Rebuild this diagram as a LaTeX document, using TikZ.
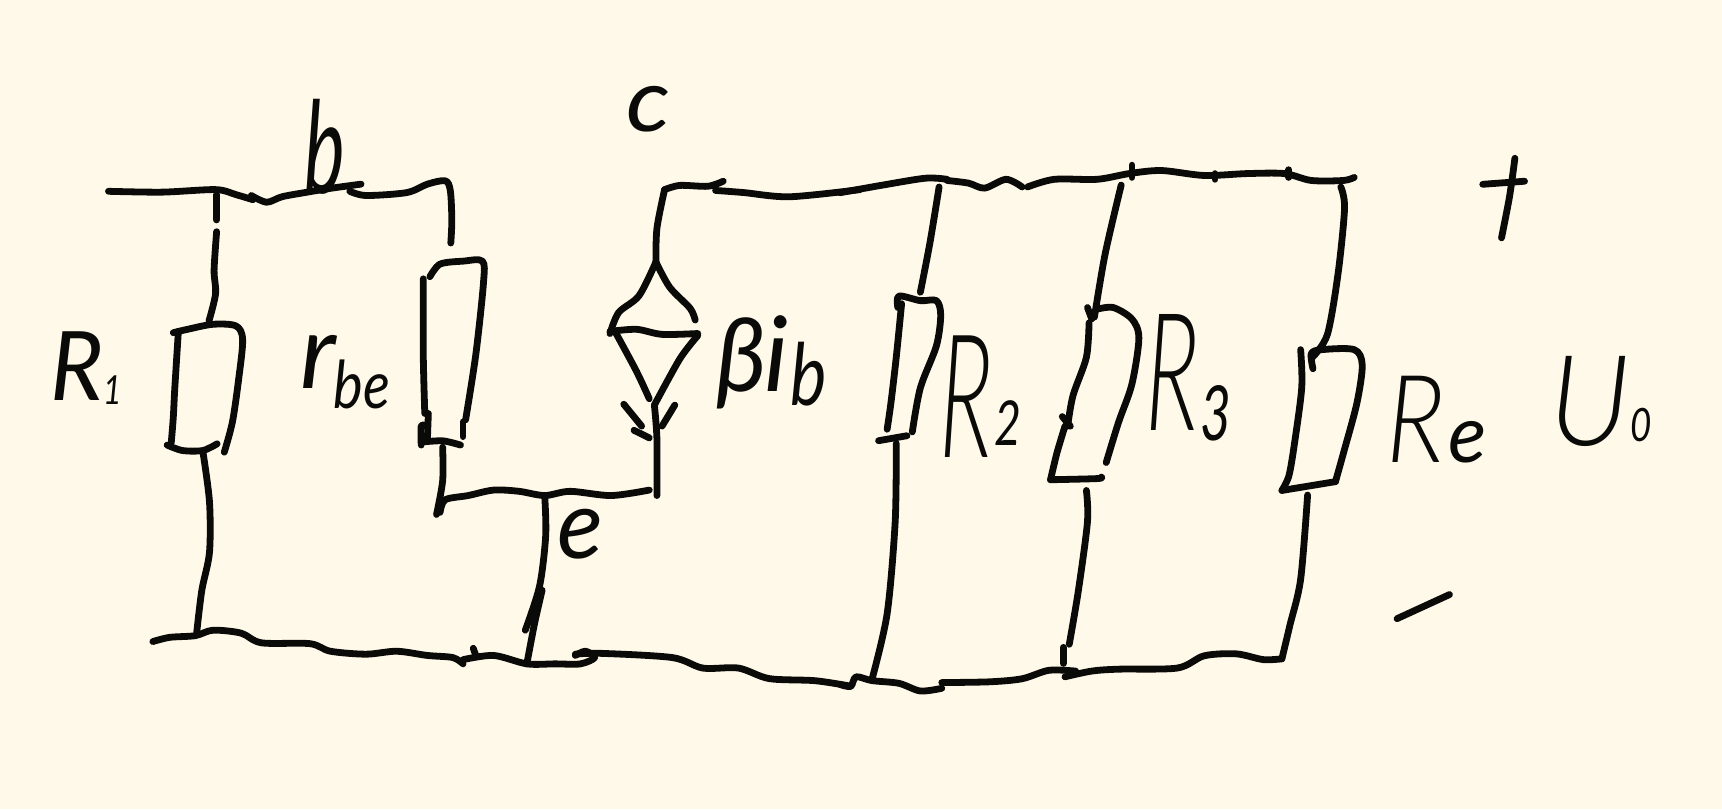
\documentclass[tikz,border=0pt]{standalone}
\usepackage{fontspec}
\setmainfont{Lato}[UprightFont=*,ItalicFont=* Italic]
\newfontfamily\lightface{Lato}[UprightFont=* Light,ItalicFont=* Light Italic]
\definecolor{paper}{HTML}{FFF9EA}
\definecolor{ink}{HTML}{0A0A08}
\tikzset{
  wire/.style={line width=3.4pt,line cap=round,line join=round,draw=ink},
  hand/.style={inner sep=0pt,outer sep=0pt,anchor=base west,text=ink,font=\itshape},
  viewA/.style={shift={(60,60)},x=0.2551pt,y=-0.2104pt},
  viewB/.style={shift={(840,120)},x=0.2678pt,y=-0.19135pt}
}
\newcommand\stroke[1]{\draw[wire] plot[smooth,tension=.5] coordinates {#1};}
\newcommand\glyph[4]{\scalebox{#1}[1]{\fontsize{#2}{#2}\selectfont\raisebox{#3}{#4}}}
\begin{document}
\begin{tikzpicture}[x=0.5pt,y=-0.5pt]
\fill[paper] (0,0) rectangle (1722,809);
\useasboundingbox (0,0) rectangle (1722,809);
% ---------- left part
\begin{scope}[viewA]
\coordinate (inL) at (95,312);
\coordinate (jR1) at (305,308);
\coordinate (jRbe) at (766,435);
\coordinate (jE) at (950,1035);
\coordinate (gndE) at (915,1435);
\coordinate (srcTop) at (1168,480);
\coordinate (srcBot) at (1170,1035);
\coordinate (cTop) at (1185,308);
% top-left wire
\stroke{(inL) (200,314) (jR1) (345,320) (378,332)}
\stroke{(375,322) (405,338) (435,325) (480,315) (530,305) (590,295)}
\stroke{(568,312) (600,322) (680,315) (720,295) (755,287) (765,310) (768,380) (jRbe)}
% R1
\stroke{(307,320) (307,380)}
\stroke{(307,408) (302,500) (305,555) (292,620)}
\stroke{(222,648) (250,640) (300,628) (345,632) (358,665) (350,760) (338,860) (322,932)}
\stroke{(232,645) (225,780) (222,850) (218,910)}
\stroke{(210,915) (240,928) (280,928) (308,912)}
\stroke{(280,930) (293,1050) (293,1170) (278,1260) (268,1360)}
% ground wire
\stroke{(182,1382) (215,1372) (265,1368) (300,1355) (355,1362) (395,1385) (490,1387) (530,1405) (600,1412) (660,1405) (720,1415) (770,1420) (790,1435)}
\stroke{(790,1425) (850,1415) (gndE) (970,1435) (1020,1435) (1048,1420) (1030,1405) (1010,1415)}
\stroke{(1010,1412) (1060,1410) (1200,1420) (1260,1445) (1330,1445) (1390,1470) (1480,1475) (1550,1488)}
\stroke{(810,1398) (815,1415)}
% rbe
\stroke{(725,515) (745,485) (790,478) (828,478) (830,530) (815,700) (795,855)}
\stroke{(712,520) (712,700) (715,840)}
\stroke{(722,840) (720,905)}
\stroke{(708,915) (708,870) (718,870)}
\stroke{(708,908) (750,905) (785,915)}
\stroke{(790,860) (790,895)}
\stroke{(750,920) (750,1000) (738,1080)}
\stroke{(745,1075) (755,1045) (800,1035) (850,1022) (900,1025) (jE) (1000,1025) (1080,1035) (1155,1022)}
% e drop
\stroke{(jE) (952,1130) (940,1250) (912,1355)}
\stroke{(945,1260) (930,1340) (gndE)}
% controlled source
\stroke{(1300,288) (1270,300) (1215,298) (cTop)}
\stroke{(cTop) (1170,400) (srcTop)}
\stroke{(srcTop) (1135,560) (1095,600) (1078,650)}
\stroke{(srcTop) (1195,540) (1235,590) (1245,618)}
\stroke{(1078,645) (1130,640) (1180,652) (1250,650)}
\stroke{(1090,650) (1130,740) (1155,805)}
\stroke{(1250,655) (1215,710) (1165,820)}
\stroke{(1165,820) (1170,900) (srcBot)}
\stroke{(1105,818) (1140,870)}
\stroke{(1205,820) (1180,870)}
\stroke{(1125,880) (1155,898)}
\stroke{(1285,310) (1340,315) (1430,325) (1568,308)}
\end{scope}
% ---------- right part
\begin{scope}[viewB]
\coordinate (topEnd) at (960,150);
\coordinate (gndR) at (825,1408);
\stroke{(0,190) (80,170) (160,152) (200,155)}
\stroke{(200,158) (240,165) (270,178) (310,155) (340,175)}
\stroke{(350,175) (400,155) (480,155) (540,140) (600,132) (680,145) (760,140) (830,140) (880,158) (940,158) (topEnd)}
\stroke{(545,118) (545,150)}
\stroke{(838,130) (838,150)}
\stroke{(700,140) (700,155)}
% R2
\stroke{(185,175) (168,320) (150,450)}
\stroke{(108,490) (110,460) (150,472) (180,472) (188,510) (180,590) (150,700) (135,815)}
\stroke{(115,480) (105,620) (95,740) (88,808)}
\stroke{(72,838) (125,825)}
\stroke{(105,845) (103,1050) (88,1290) (60,1460)}
% ground
\stroke{(0,1475) (20,1480) (30,1455) (60,1465) (110,1472) (150,1492) (190,1485)}
\stroke{(190,1470) (280,1468) (340,1460) (390,1438) (440,1440)}
\stroke{(420,1455) (470,1440) (520,1435) (630,1432) (680,1400) (740,1395) (790,1410) (gndR)}
% R3
\stroke{(525,170) (495,350) (475,515)}
\stroke{(462,490) (470,520)}
\stroke{(465,530) (460,620) (435,720) (425,800)}
\stroke{(415,775) (430,800)}
\stroke{(420,800) (405,870) (393,940)}
\stroke{(393,940) (480,937) (488,933)}
\stroke{(478,495) (510,490) (545,520) (558,570) (545,690) (520,790) (497,895)}
\stroke{(460,968) (462,1050) (445,1230) (428,1370)}
\stroke{(417,1378) (417,1420)}
% Re
\stroke{(935,175) (942,230) (930,400) (910,560) (882,620)}
\stroke{(883,650) (880,610) (900,600) (960,600) (975,640) (965,740) (940,870) (925,945)}
\stroke{(860,600) (862,700) (848,850) (838,930) (825,968)}
\stroke{(825,968) (925,945)}
\stroke{(873,980) (860,1200) (840,1320) (gndR)}
% plus, minus
\stroke{(1200,168) (1278,160)}
\stroke{(1260,100) (1250,200) (1235,308)}
\stroke{(1040,1303) (1138,1240)}
\end{scope}
% ---------- labels
\node[hand] (lb) at (304,193) {\glyph{.6}{64}{0pt}{b}};
\node[hand] (lc) at (626,131) {\glyph{1.1}{44}{0pt}{c}};
\node[hand] (le) at (557,558) {\glyph{1}{48}{0pt}{e}};
\node[hand] (lR1) at (50,400) {\glyph{.95}{48}{0pt}{R}\glyph{.8}{20}{-2pt}{1}};
\node[hand] (lrbe) at (300,388) {\glyph{1}{52}{0pt}{r}\kern-1pt\glyph{.85}{33}{-10pt}{be}};
\node[hand] (lbeta) at (716,391) {\glyph{.95}{51}{0pt}{β}\kern-1pt\glyph{1}{52}{0pt}{i}\kern1pt\glyph{.8}{43}{-7pt}{b}};
\node[hand] (lR2) at (939,457) {\glyph{.55}{86}{0pt}{\lightface\itshape R}\kern1pt\glyph{.75}{31}{6pt}{2}};
\node[hand] (lR3) at (1145,430) {\glyph{.58}{82}{0pt}{\lightface\itshape R}\kern1pt\glyph{.7}{38}{-5pt}{3}};
\node[hand] (lRe) at (1386,462) {\glyph{.85}{61}{0pt}{\lightface\itshape R}\kern2pt\glyph{1}{40}{0pt}{e}};
\node[hand] (lU) at (1549,445) {\glyph{.95}{63}{0pt}{\lightface\itshape U}\glyph{.8}{23}{2pt}{0}};
\end{tikzpicture}
\end{document}
